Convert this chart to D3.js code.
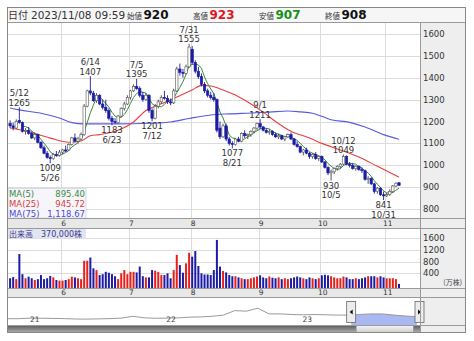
<!DOCTYPE html>
<html>
<head>
<meta charset="utf-8">
<script src="https://cdn.jsdelivr.net/npm/d3@7"></script>
<style>
body { margin: 0; background: #fff; }
svg { display: block; }
text { font-family: "DejaVu Sans", Verdana, sans-serif; }
.jp { font-family: "Noto Sans CJK JP", sans-serif; }
</style>
</head>
<body>
<div id="chart"></div>
<script>
// trading days shown (2023/5/9 - 2023/11/8)
const dates = [
  "5/9","5/10","5/11","5/12","5/15","5/16","5/17","5/18","5/19","5/22","5/23","5/24","5/25","5/26","5/29","5/30","5/31",
  "6/1","6/2","6/5","6/6","6/7","6/8","6/9","6/12","6/13","6/14","6/15","6/16","6/19","6/20","6/21","6/22","6/23","6/26","6/27","6/28","6/29","6/30",
  "7/3","7/4","7/5","7/6","7/7","7/10","7/11","7/12","7/13","7/14","7/18","7/19","7/20","7/21","7/24","7/25","7/26","7/27","7/28","7/31",
  "8/1","8/2","8/3","8/4","8/7","8/8","8/9","8/10","8/14","8/15","8/16","8/17","8/18","8/21","8/22","8/23","8/24","8/25","8/28","8/29","8/30","8/31",
  "9/1","9/4","9/5","9/6","9/7","9/8","9/11","9/12","9/13","9/14","9/15","9/19","9/20","9/21","9/22","9/25","9/26","9/27","9/28","9/29",
  "10/2","10/3","10/4","10/5","10/6","10/10","10/11","10/12","10/13","10/16","10/17","10/18","10/19","10/20","10/23","10/24","10/25","10/26","10/27","10/30","10/31",
  "11/1","11/2","11/6","11/7","11/8"
];
const open = [
  1190,1180,1170,1205,1195,1155,1160,1145,1125,1140,1105,1080,1055,1035,1030,1050,1045,
  1060,1070,1070,1095,1125,1110,1120,1140,1270,1340,1330,1295,1320,1280,1265,1250,1215,1200,1195,1225,1260,1280,
  1310,1340,1360,1350,1320,1300,1320,1250,1215,1270,1290,1310,1305,1290,1285,1340,1440,1425,1420,1450,
  1530,1470,1430,1405,1370,1340,1320,1310,1300,1170,1130,1180,1120,1100,1095,1120,1110,1145,1135,1140,1155,1170,
  1190,1175,1160,1150,1155,1140,1130,1135,1120,1130,1140,1120,1095,1085,1060,1070,1055,1040,1050,1030,
  1040,1015,990,965,970,985,995,1005,1040,1005,1000,985,995,980,975,935,940,915,880,895,865,
  860,866,880,905,920
];
const high = [
  1205,1195,1210,1265,1200,1170,1175,1155,1150,1145,1110,1090,1065,1045,1055,1065,1070,
  1075,1090,1100,1130,1145,1130,1150,1280,1345,1407,1340,1330,1325,1300,1300,1260,1225,1215,1230,1265,1290,1320,
  1345,1370,1395,1360,1335,1330,1325,1260,1280,1300,1320,1340,1320,1305,1350,1450,1465,1440,1460,1555,
  1545,1480,1450,1420,1380,1350,1335,1330,1305,1200,1190,1190,1130,1110,1125,1130,1150,1160,1145,1160,1175,1195,
  1211,1180,1170,1165,1160,1150,1145,1140,1135,1145,1150,1125,1110,1090,1075,1080,1060,1055,1060,1045,
  1045,1020,995,980,990,1000,1010,1049,1045,1015,1010,1000,1000,990,980,950,945,920,900,900,880,
  875,890,910,922,923
];
const low = [
  1170,1160,1165,1190,1150,1140,1140,1120,1115,1100,1075,1050,1030,1009,1025,1040,1040,
  1050,1060,1065,1090,1105,1100,1115,1135,1265,1320,1290,1285,1275,1255,1240,1205,1183,1190,1190,1220,1250,1275,
  1300,1335,1345,1310,1290,1295,1240,1201,1210,1260,1280,1300,1280,1275,1280,1335,1410,1400,1415,1445,
  1460,1420,1395,1360,1330,1310,1300,1290,1150,1120,1125,1110,1090,1077,1090,1105,1105,1125,1120,1130,1145,1160,
  1165,1155,1145,1140,1135,1125,1120,1115,1110,1125,1115,1090,1080,1055,1045,1050,1030,1030,1025,1020,
  1010,985,955,930,960,975,985,1000,1000,990,980,975,975,965,930,915,910,870,870,860,841,
  855,860,875,900,907
];
const close = [
  1180,1172,1200,1195,1155,1160,1145,1125,1140,1105,1080,1055,1035,1030,1050,1045,1060,
  1070,1065,1095,1125,1110,1120,1140,1270,1340,1330,1295,1320,1280,1265,1250,1215,1200,1195,1225,1260,1280,1310,
  1340,1360,1350,1320,1300,1320,1250,1215,1270,1290,1310,1305,1290,1285,1340,1440,1425,1420,1450,1540,
  1470,1430,1405,1370,1340,1320,1310,1300,1160,1130,1180,1120,1100,1095,1120,1110,1145,1135,1140,1155,1170,1190,
  1175,1160,1150,1155,1140,1130,1135,1120,1130,1140,1120,1095,1085,1060,1070,1055,1040,1050,1030,1040,
  1015,990,965,970,985,995,1005,1040,1005,1000,985,995,980,975,935,940,915,880,895,865,860,
  866,880,905,918,908
];
// volume in 万株
const volume = [
  230,270,200,1060,370,230,285,230,170,200,340,200,230,310,260,170,150,
  150,170,200,285,260,230,200,830,830,940,570,510,340,370,450,420,370,300,200,400,510,370,
  450,450,430,630,300,260,260,510,490,450,340,340,400,230,510,1030,680,420,740,1100,
  970,1160,650,400,360,360,340,510,1540,630,480,430,340,300,300,260,230,200,200,230,260,290,
  330,260,230,290,250,230,260,200,230,200,230,260,290,260,230,200,260,230,200,230,
  330,350,330,300,260,230,230,290,260,200,200,230,200,230,260,300,300,300,260,300,260,
  230,230,230,200,37
];
// moving averages (day index -> value)
const ma25Idx = [0,6,13,19,23,26,29,35,40,44,48,51,55,59,62,65,69,73,77,82,86,91,97,101,107,113,119,126];
const ma25Val = [1170,1153,1124,1105,1111,1135,1140,1160,1198,1250,1275,1292,1318,1344,1365,1362,1344,1321,1289,1243,1200,1155,1125,1100,1070,1038,995,946];
const ma75Idx = [0,3,10,16,20,24,35,45,52,58,65,71,78,84,90,94,98,104,110,115,121,126];
const ma75Val = [1262,1253,1238,1216,1195,1189,1189,1192,1198,1214,1230,1235,1239,1243,1248,1244,1238,1208,1196,1175,1140,1119];

const peakDates = ["5/12","6/14","7/5","7/31","9/1","10/12"];
const troughDates = ["5/26","6/23","7/12","8/21","10/5","10/31"];
const priceTicks = [800,900,1000,1100,1200,1300,1400,1500,1600];
const volTicks = [400,800,1200,1600];
const monthLabels = ["6","7","8","9","10","11"];

// long range navigator, monthly from 2020/11 to 2023/11
const navStart = "2020-11";
const navValues = [550,550,650,620,600,560,500,480,520,560,650,950,700,620,650,700,800,850,950,1150,1900,1800,2300,1350,1350,1250,1200,1250,1200,1150,1150,1250,1350,1350,1150,1000,890];
const navYears = ["21","22","23"];

const header = { date: "2023/11/08 09:59", o: "920", h: "923", l: "907", c: "908" };
const maLegend = [["MA(5)","895.40","#3c8a3c"],["MA(25)","945.72","#e03c3c"],["MA(75)","1,118.67","#4a4ad8"]];

const W = 474, H = 341;
const L = 8, R = 420, RX = 466;
const mainTop = 22, mainBot = 218, volTop = 228, volBot = 288, navTop = 297, navBot = 325, scrBot = 333;
const UP = "#e8201c", DOWN = "#1c1ca6";

const svg = d3.select("#chart").append("svg").attr("width", W).attr("height", H);

// backgrounds
svg.append("rect").attr("x", 7).attr("y", 7).attr("width", RX - 7).attr("height", scrBot - 7).attr("fill", "#fff");
svg.append("rect").attr("x", 7).attr("y", 7).attr("width", RX - 7).attr("height", mainTop - 7).attr("fill", "#f6f6f6");
svg.append("rect").attr("x", R).attr("y", mainTop).attr("width", RX - R).attr("height", scrBot - mainTop).attr("fill", "#eeeeee");
[[mainBot, volTop], [volBot, navTop]].forEach(s => {
  svg.append("rect").attr("x", L).attr("y", s[0]).attr("width", R - L).attr("height", s[1] - s[0]).attr("fill", "#e8e8e8");
});

const x = d3.scaleLinear().domain([-0.68, 132.8]).range([L, R]);
const y = d3.scaleLinear().domain([800, 1600]).range([209, 34]);
const yv = d3.scaleLinear().domain([0, 1600]).range([285, 238.2]);

const monthStart = monthLabels.map(m => dates.findIndex(d => d.split("/")[0] === m));

// grid
const grid = svg.append("g").attr("stroke", "#dcdcdc").attr("shape-rendering", "crispEdges");
priceTicks.forEach(t => grid.append("line").attr("x1", L).attr("x2", R).attr("y1", Math.round(y(t)) + 0.5).attr("y2", Math.round(y(t)) + 0.5));
volTicks.forEach(t => grid.append("line").attr("x1", L).attr("x2", R).attr("y1", Math.round(yv(t)) + 0.5).attr("y2", Math.round(yv(t)) + 0.5));
monthStart.forEach(i => {
  const gx = Math.round(x(i - 0.5)) + 0.5;
  grid.append("line").attr("x1", gx).attr("x2", gx).attr("y1", mainTop).attr("y2", mainBot);
  grid.append("line").attr("x1", gx).attr("x2", gx).attr("y1", volTop).attr("y2", volBot);
});

// moving averages
const lineGen = d3.line().x(d => x(d[0])).y(d => y(d[1])).curve(d3.curveMonotoneX);
const ma5 = d3.range(4, close.length).map(i => [i, d3.mean(close.slice(i - 4, i + 1))]);
const ma25 = ma25Idx.map((d, k) => [d, ma25Val[k]]);
const ma75 = ma75Idx.map((d, k) => [d, ma75Val[k]]);
svg.append("path").attr("d", lineGen(ma75)).attr("fill", "none").attr("stroke", "#5a5ae0").attr("stroke-width", 1.1);
svg.append("path").attr("d", lineGen(ma25)).attr("fill", "none").attr("stroke", "#e84040").attr("stroke-width", 1.1);
svg.append("path").attr("d", d3.line().x(d => x(d[0])).y(d => y(d[1]))(ma5)).attr("fill", "none").attr("stroke", "#3c8a3c").attr("stroke-width", 1);

// candles
const cw = 2.4;
const candles = svg.append("g").selectAll("g").data(d3.range(dates.length)).join("g");
candles.append("line")
  .attr("x1", i => x(i)).attr("x2", i => x(i))
  .attr("y1", i => y(high[i])).attr("y2", i => y(low[i]))
  .attr("stroke", i => close[i] >= open[i] ? "#444" : DOWN).attr("stroke-width", 0.9);
candles.append("rect")
  .attr("x", i => x(i) - cw / 2)
  .attr("y", i => y(Math.max(open[i], close[i])))
  .attr("width", cw)
  .attr("height", i => Math.max(1, Math.abs(y(open[i]) - y(close[i]))))
  .attr("fill", i => close[i] >= open[i] ? "#fff" : DOWN)
  .attr("stroke", i => close[i] >= open[i] ? "#555" : DOWN)
  .attr("stroke-width", 0.6);

// high / low notes
const note = svg.append("g").attr("font-size", 8.5).attr("fill", "#333").attr("text-anchor", "middle");
peakDates.forEach(d => {
  const i = dates.indexOf(d);
  const b = y(high[i]) - 1.5;
  note.append("text").attr("x", x(i)).attr("y", b - 9.5).text(d);
  note.append("text").attr("x", x(i)).attr("y", b).text(high[i]);
});
troughDates.forEach(d => {
  const i = dates.indexOf(d);
  const b = y(low[i]) + 8;
  note.append("text").attr("x", x(i)).attr("y", b).text(low[i]);
  note.append("text").attr("x", x(i)).attr("y", b + 9.5).text(d);
});

// price axis labels
svg.append("g").attr("font-size", 8.5).attr("fill", "#333").selectAll("text").data(priceTicks).join("text")
  .attr("x", 423).attr("y", d => y(d) + 3).text(d => d);

// MA legend
svg.append("rect").attr("x", 8).attr("y", 188.5).attr("width", 78).attr("height", 29.5).attr("fill", "#f4f4fa").attr("fill-opacity", 0.92).attr("stroke", "#d8d8e8");
maLegend.forEach((m, k) => {
  svg.append("text").attr("x", 9).attr("y", 196.5 + k * 10.3).attr("font-size", 8.5).attr("fill", m[2]).text(m[0]);
  svg.append("text").attr("x", 85).attr("y", 196.5 + k * 10.3).attr("font-size", 8.5).attr("fill", m[2]).attr("text-anchor", "end").text(m[1]);
});

// volume bars
svg.append("g").selectAll("rect").data(d3.range(dates.length)).join("rect")
  .attr("x", i => x(i) - 1).attr("width", 2)
  .attr("y", i => yv(volume[i])).attr("height", i => volBot - yv(volume[i]))
  .attr("fill", i => close[i] >= open[i] ? UP : DOWN);
svg.append("rect").attr("x", 8).attr("y", volTop).attr("width", 78).attr("height", 10.5).attr("fill", "#e2e4f2");
svg.append("text").attr("class", "jp").attr("x", 9).attr("y", 236.5).attr("font-size", 8).attr("fill", "#3a3a8c").text("出来高");
svg.append("text").attr("x", 41).attr("y", 236.5).attr("font-size", 8).attr("fill", "#3a3a8c")
  .text(d3.format(",")(volume[volume.length - 1] * 10000)).append("tspan").attr("class", "jp").text("株");
svg.append("g").attr("font-size", 8.5).attr("fill", "#333").selectAll("text").data(volTicks).join("text")
  .attr("x", 423).attr("y", d => yv(d) + 3).text(d => d);
svg.append("text").attr("class", "jp").attr("x", 462).attr("y", 285).attr("font-size", 7).attr("fill", "#444").attr("text-anchor", "end").text("(万株)");

// month labels
[[mainBot, volTop], [volBot, navTop]].forEach(s => {
  svg.append("g").attr("font-size", 7.5).attr("fill", "#333").attr("text-anchor", "middle")
    .selectAll("text").data(monthStart).join("text")
    .attr("x", i => x(i) + 1).attr("y", s[1] - 2).text((i, k) => monthLabels[k]);
});

// navigator
const navDates = navValues.map((v, k) => d3.timeMonth.offset(d3.timeParse("%Y-%m")(navStart), k));
const xt = d3.scaleTime().domain([new Date(2020, 10, 1), new Date(2023, 10, 8)]).range([L, 419.5]);
const yn = d3.scaleLinear().domain([0, 4000]).range([322, 298]);
const navPts = navValues.map((v, k) => [navDates[k], v]);
const selA = xt(new Date(2023, 4, 9)), selB = xt(new Date(2023, 10, 8));
svg.append("clipPath").attr("id", "sel").append("rect").attr("x", selA).attr("y", navTop).attr("width", selB - selA).attr("height", navBot - navTop);
svg.append("path").attr("clip-path", "url(#sel)")
  .attr("d", d3.area().x(d => xt(d[0])).y0(navBot).y1(d => yn(d[1]))(navPts))
  .attr("fill", "#a9b8f2");
svg.append("path").attr("d", d3.line().x(d => xt(d[0])).y(d => yn(d[1]))(navPts))
  .attr("fill", "none").attr("stroke", "#9a9a9a").attr("stroke-width", 1);
navYears.forEach(yr => {
  svg.append("text").attr("x", xt(new Date(2000 + +yr, 0, 1)) + 4).attr("y", 322).attr("font-size", 7.5)
    .attr("fill", "#444").attr("text-anchor", "middle").text(yr);
});

// scrollbar
const grad = svg.append("defs").append("linearGradient").attr("id", "scr").attr("x1", 0).attr("x2", 0).attr("y1", 0).attr("y2", 1);
grad.append("stop").attr("offset", 0).attr("stop-color", "#555");
grad.append("stop").attr("offset", 1).attr("stop-color", "#b5b5b5");
const grad2 = svg.select("defs").append("linearGradient").attr("id", "thumb").attr("x1", 0).attr("x2", 0).attr("y1", 0).attr("y2", 1);
grad2.append("stop").attr("offset", 0).attr("stop-color", "#f4f4f4");
grad2.append("stop").attr("offset", 1).attr("stop-color", "#cfcfcf");
svg.append("rect").attr("x", L).attr("y", navBot).attr("width", R - L).attr("height", scrBot - navBot).attr("fill", "url(#scr)");
svg.append("rect").attr("x", selA + 5).attr("y", navBot + 0.5).attr("width", selB - selA - 11).attr("height", scrBot - navBot - 1)
  .attr("fill", "url(#thumb)").attr("stroke", "#888").attr("stroke-width", 0.5);

// handles
[[selA, -1], [selB, 1]].forEach(h => {
  const hx = h[0];
  svg.append("rect").attr("x", hx - 4.5).attr("y", 301.5).attr("width", 9).attr("height", 21)
    .attr("fill", "#ececec").attr("stroke", "#666").attr("stroke-width", 0.8);
  const t = h[1];
  svg.append("path").attr("d", `M${hx + t * 1.5},${312}L${hx - t * 1.5},${309.5}L${hx - t * 1.5},${314.5}Z`)
    .attr("fill", "#111");
});

// panel borders
const brd = svg.append("g").attr("stroke", "#9a9a9a").attr("fill", "none").attr("shape-rendering", "crispEdges");
[mainTop, mainBot, volTop, volBot, navTop, navBot].forEach(v =>
  brd.append("line").attr("x1", 7).attr("x2", RX).attr("y1", v + 0.5).attr("y2", v + 0.5));
brd.append("line").attr("x1", R + 0.5).attr("x2", R + 0.5).attr("y1", mainTop).attr("y2", scrBot);
brd.append("rect").attr("x", 7.5).attr("y", 7.5).attr("width", RX - 8).attr("height", scrBot - 8).attr("stroke", "#888");

// header
const hd = svg.append("text").attr("y", 19).attr("fill", "#333");
hd.append("tspan").attr("class", "jp").attr("x", 8).attr("font-size", 10).text("日付");
hd.append("tspan").attr("x", 31).attr("font-size", 10.5).text(header.date);
const hv = [["始値", header.o, "#111", 127], ["高値", header.h, "#e0141e", 193], ["安値", header.l, "#189018", 259], ["終値", header.c, "#111", 325]];
hv.forEach(v => {
  const t = svg.append("text").attr("x", v[3]).attr("y", 19);
  t.append("tspan").attr("class", "jp").attr("font-size", 7.5).attr("fill", "#333").text(v[0]);
  t.append("tspan").attr("dx", 1.5).attr("font-size", 12).attr("font-weight", "bold").attr("fill", v[2]).text(v[1]);
});
</script>
</body>
</html>
